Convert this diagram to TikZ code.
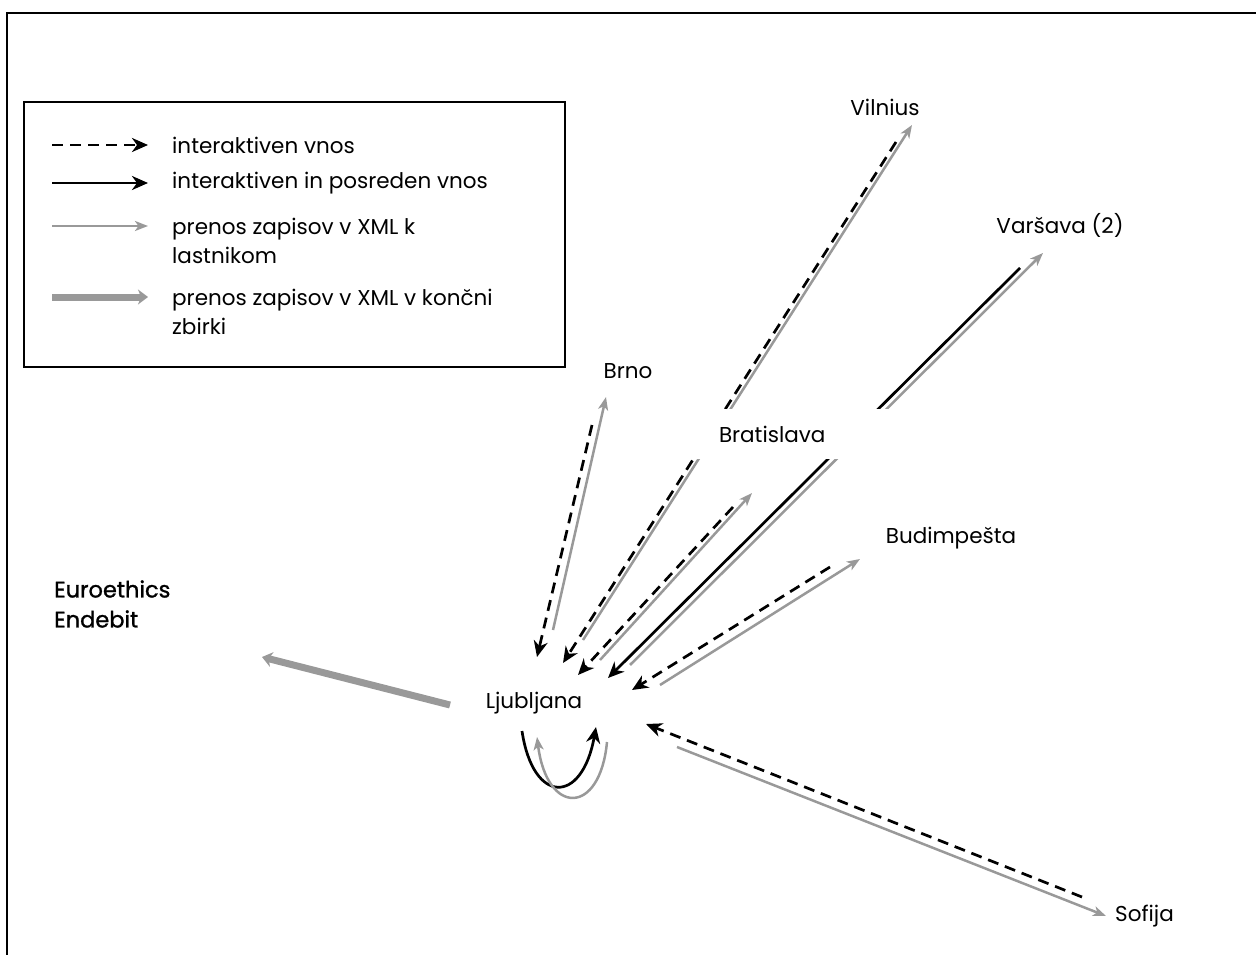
\documentclass[tikz,border=0pt]{standalone}
\usepackage{fontspec}
\setmainfont{Poppins}
\usetikzlibrary{arrows.meta}
\definecolor{lgray}{HTML}{999999}
\tikzset{
  lbl/.style={font=\fontsize{21.5}{29}\selectfont, inner sep=0pt},
  boldlbl/.style={font=\fontsize{22.5}{30}\selectfont\addfontfeatures{FakeBold=1.2}, inner sep=0pt},
  blk/.style={line width=2.7pt, black, -{Stealth[length=16pt,width=14pt,inset=5pt]}},
  dsh/.style={blk, dash pattern=on 11pt off 7pt},
  gry/.style={line width=2.5pt, lgray, -{Stealth[length=13pt,width=10pt,inset=3.5pt]}},
  thk/.style={line width=7pt, lgray, -{Stealth[length=10pt,width=15pt,inset=3pt]}},
  bratbox/.style={lbl, fill=white, minimum width=203pt, minimum height=50pt, inner xsep=29pt, text width=145pt, align=left},
}
\begin{document}
\begin{tikzpicture}[x=1pt,y=-1pt]
\useasboundingbox (0,0) rectangle (1256,955);
% frame
\draw[line width=2.8pt] (7,956) -- (7,13) -- (1257,13);

% legend
\node[draw, line width=2pt, minimum width=541pt, minimum height=265pt, inner sep=0pt] (legend) at (294.5,234.5) {};
\coordinate (l1a) at (52,145); \coordinate (l1b) at (148,145);
\coordinate (l2a) at (52,183); \coordinate (l2b) at (148,183);
\coordinate (l3a) at (52,226); \coordinate (l3b) at (148,226);
\coordinate (l4a) at (52,297); \coordinate (l4b) at (148,297);
\draw[dsh] (l1a) -- (l1b);
\draw[blk] (l2a) -- (l2b);
\draw[gry] (l3a) -- (l3b);
\draw[thk] (l4a) -- (l4b);
\node[lbl, anchor=west] (t1) at (172,145) {interaktiven vnos};
\node[lbl, anchor=west] (t2) at (172,183) {interaktiven in posreden vnos};
\node[lbl, anchor=west, align=left] (t3) at (172,241) {prenos zapisov v XML k\\lastnikom};
\node[lbl, anchor=west, align=left] (t4) at (172,312) {prenos zapisov v XML v končni\\zbirki};

% city labels
\node[lbl] (vil) at (885,107) {Vilnius};
\node[lbl] (var) at (1060,225) {Varšava (2)};
\node[lbl] (brno) at (628,371) {Brno};
\node[lbl] (bud) at (951,538) {Budimpešta};
\node[lbl] (lj) at (534,703) {Ljubljana};
\node[lbl, anchor=west] (sof) at (1115,916) {Sofija};
\node[boldlbl, anchor=west, align=left] (eu) at (54,604) {Euroethics\\Endebit};

% endpoints
\coordinate (brnoA) at (592,425); \coordinate (ljA) at (537,657);
\coordinate (ljB) at (553,630);   \coordinate (brnoB) at (606,397);
\coordinate (vilA) at (896,142);  \coordinate (ljC) at (563,663);
\coordinate (ljD) at (583,640);   \coordinate (vilB) at (912,125);
\coordinate (brA) at (733,507);   \coordinate (ljE) at (578,675);
\coordinate (ljF) at (600,660);   \coordinate (brB) at (752,493);
\coordinate (varA) at (1020,268); \coordinate (ljG) at (608,678);
\coordinate (ljH) at (630,665);   \coordinate (varB) at (1043,253);
\coordinate (buA) at (830,567);   \coordinate (ljI) at (632,690);
\coordinate (ljJ) at (660,685);   \coordinate (buB) at (860,559);
\coordinate (soA) at (1082,897);  \coordinate (ljK) at (646,724);
\coordinate (ljL) at (677,747);   \coordinate (soB) at (1106,916);
\coordinate (ljM) at (450,705);   \coordinate (euB) at (262,657);
\coordinate (ljN) at (522,731);   \coordinate (ljO) at (596,727);
\coordinate (ljP) at (607,742);   \coordinate (ljQ) at (537,737);

% long connectors passing behind Bratislava
\draw[dsh] (vilA) -- (ljC);
\draw[gry] (ljD) -- (vilB);
\draw[blk] (varA) -- (ljG);
\draw[gry] (ljH) -- (varB);
\node[bratbox] (brat) at (791.5,434) {Bratislava};

% other connectors
\draw[dsh] (brnoA) -- (ljA);
\draw[gry] (ljB) -- (brnoB);
\draw[dsh] (brA) -- (ljE);
\draw[gry] (ljF) -- (brB);
\draw[dsh] (buA) -- (ljI);
\draw[gry] (ljJ) -- (buB);
\draw[dsh] (soA) -- (ljK);
\draw[gry] (ljL) -- (soB);
\draw[thk] (ljM) -- (euB);
\draw[blk] (ljN) .. controls (533,805) and (582,805) .. (ljO);
\draw[gry] (ljP) .. controls (600,816) and (547,816) .. (ljQ);
\end{tikzpicture}
\end{document}
